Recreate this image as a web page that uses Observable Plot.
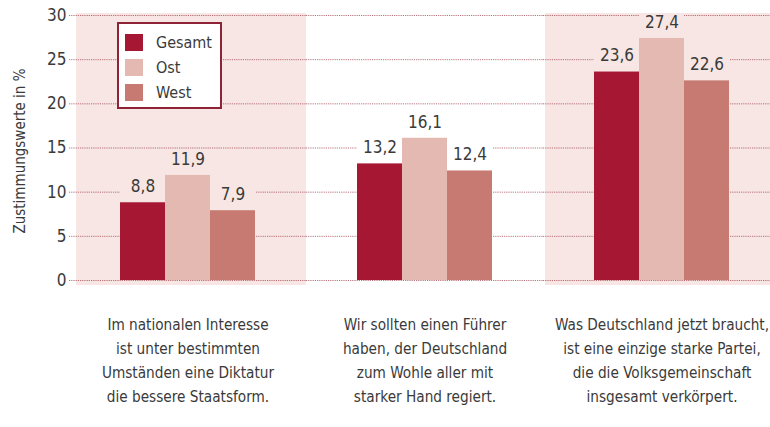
<!DOCTYPE html>
<html>
<head>
<meta charset="utf-8">
<script src="https://cdn.jsdelivr.net/npm/d3@7"></script>
<script src="https://cdn.jsdelivr.net/npm/@observablehq/plot@0.6"></script>
<style>
  html, body { margin: 0; padding: 0; background: #fff; overflow: hidden; }
  #wrap { position: relative; width: 770px; height: 427px; overflow: hidden; }
  #chart svg { max-width: none !important; }
  #legend { position: absolute; left: 117px; top: 22px; width: 101px; height: 83px; border: 2px solid #8e2236; background: #fff;
    font-family: "Liberation Sans Narrow", "DejaVu Sans Condensed", "Roboto Condensed", sans-serif; font-size: 16px; color: #3a3a3a; }
  .item { position: absolute; left: 6px; height: 18px; display: flex; align-items: center; }
  .sw { width: 18px; height: 17px; margin-right: 13px; }
  #ylabel { position: absolute; left: 20px; top: 151px; transform: translate(-50%, -50%) rotate(-90deg); white-space: nowrap;
    font-family: "Liberation Sans Narrow", "DejaVu Sans Condensed", "Roboto Condensed", sans-serif; font-size: 15px; color: #3a3a3a; }
</style>
</head>
<body>
<div id="wrap"><div id="chart"></div><div id="legend"></div><div id="ylabel"></div></div>
<script>
const categories = ["A", "B", "C"];
const categoryLabels = [
  "Im nationalen Interesse\nist unter bestimmten\nUmständen eine Diktatur\ndie bessere Staatsform.",
  "Wir sollten einen Führer\nhaben, der Deutschland\nzum Wohle aller mit\nstarker Hand regiert.",
  "Was Deutschland jetzt braucht,\nist eine einzige starke Partei,\ndie die Volksgemeinschaft\ninsgesamt verkörpert."
];
const series = ["Gesamt", "Ost", "West"];
const gesamt = [8.8, 13.2, 23.6];
const ost = [11.9, 16.1, 27.4];
const west = [7.9, 12.4, 22.6];
const seriesColors = ["#a51733", "#e4b9b1", "#c67a72"];
const panelColors = ["#f7e6e3", "#ffffff", "#f7e6e3"];
const yTicks = [0, 5, 10, 15, 20, 25, 30];
const yLabel = "Zustimmungswerte in %";

const values = [gesamt, ost, west];
const data = [];
categories.forEach((c, i) => series.forEach((s, j) => data.push({cat: c, series: s, value: values[j][i], bg: panelColors[i]})));
const panels = categories.map((c, i) => ({cat: c, bg: panelColors[i], label: categoryLabels[i]}));

const font = '"Liberation Sans Narrow", "DejaVu Sans Condensed", "Roboto Condensed", sans-serif';
const textColor = "#3a3a3a";

const chart = Plot.plot({
  width: 780,
  height: 427,
  marginTop: 15,
  marginBottom: 147,
  marginLeft: 68,
  marginRight: 0,
  style: {fontFamily: font, fontSize: "17px", color: textColor, background: "transparent"},
  fx: {domain: categories, padding: 0, axis: null},
  x: {domain: series, paddingInner: 0, paddingOuter: 1.08, axis: null},
  y: {domain: [0, 30], ticks: yTicks, tickSize: 0, tickPadding: 3, tickFormat: d => String(d), label: null},
  color: {domain: series, range: seriesColors},
  marks: [
    Plot.barY(panels, {filter: (d, i) => i === 0, fx: "cat", y1: 0, y2: 30, fill: "bg", insetTop: -2, insetBottom: -5, insetLeft: 7}),
    Plot.barY(panels, {filter: (d, i) => i > 0, fx: "cat", y1: 0, y2: 30, fill: "bg", insetTop: -2, insetBottom: -5, insetLeft: 2}),
    Plot.ruleY(yTicks, {stroke: "#9a3a48", strokeOpacity: 0.7, strokeWidth: 1, strokeDasharray: "1.2,1"}),
    Plot.barY(data, {fx: "cat", x: "series", y1: d => d.value + 0.9, y2: d => d.value + 2.75, fill: "bg"}),
    Plot.barY(data, {fx: "cat", x: "series", y: "value", fill: "series"}),
    Plot.text(data, {fx: "cat", x: "series", y: "value", text: d => d.value.toFixed(1).replace(".", ","),
      dy: -16, fontSize: 17, fill: textColor}),
    Plot.text(panels, {fx: "cat", text: "label", frameAnchor: "bottom", lineAnchor: "top", dy: 33,
      lineHeight: 1.57, fontSize: 15.2, fill: textColor})
  ]
});
document.getElementById("chart").appendChild(chart);

document.getElementById("ylabel").textContent = yLabel;
const legend = document.getElementById("legend");
series.forEach((s, j) => {
  const it = document.createElement("div");
  it.className = "item";
  it.style.top = (9 + j * 25) + "px";
  it.innerHTML = `<div class="sw" style="background:${seriesColors[j]}"></div><span>${s}</span>`;
  legend.appendChild(it);
});
</script>
</body>
</html>
